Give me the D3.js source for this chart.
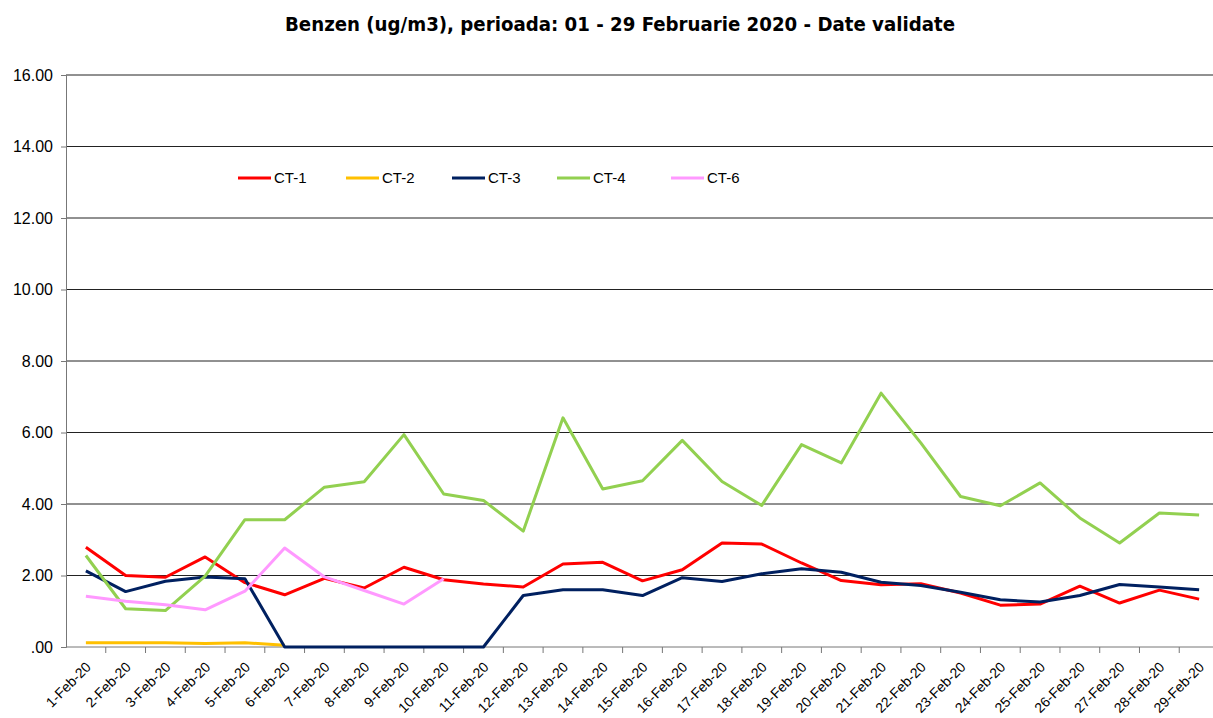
<!DOCTYPE html>
<html>
<head>
<meta charset="utf-8">
<script src="https://cdn.jsdelivr.net/npm/d3@7"></script>
<style>
  body { margin: 0; background: #fff; }
  svg { display: block; }
</style>
</head>
<body>
<div id="wrapper"></div>
<script>
// categories and values
const days = d3.range(1, 30).map(d => `${d}-Feb-20`)

const ct1 = [2.79, 2.00, 1.95, 2.52, 1.80, 1.46, 1.92, 1.65, 2.23, 1.88,
    1.76, 1.68, 2.32, 2.37, 1.85, 2.16, 2.91, 2.88, 2.35, 1.86,
    1.74, 1.77, 1.51, 1.17, 1.20, 1.70, 1.23, 1.59, 1.34]
const ct2 = [0.12, 0.12, 0.12, 0.10, 0.12, 0.05]
const ct3 = [2.13, 1.55, 1.84, 1.96, 1.91, 0, 0, 0, 0, 0,
    0, 1.44, 1.60, 1.60, 1.44, 1.94, 1.83, 2.05, 2.19, 2.09,
    1.81, 1.72, 1.53, 1.32, 1.26, 1.44, 1.75, 1.68, 1.60]
const ct4 = [2.56, 1.07, 1.02, 1.98, 3.56, 3.56, 4.47, 4.62, 5.94, 4.28,
    4.10, 3.24, 6.41, 4.42, 4.65, 5.78, 4.63, 3.96, 5.66, 5.15,
    7.10, 5.71, 4.21, 3.95, 4.59, 3.61, 2.91, 3.75, 3.69]
const ct6 = [1.42, 1.28, 1.18, 1.04, 1.56, 2.77, 1.96, 1.58, 1.20, 1.91]

const seriesNames = ['CT-1', 'CT-2', 'CT-3', 'CT-4', 'CT-6']
const seriesValues = [ct1, ct2, ct3, ct4, ct6]
const seriesColors = ['#ff0000', '#ffc000', '#002060', '#92d050', '#ff99ff']

const yTicks = [0, 2, 4, 6, 8, 10, 12, 14, 16]
const yTickLabels = ['.00', '2.00', '4.00', '6.00', '8.00', '10.00', '12.00', '14.00', '16.00']

const title = 'Benzen (ug/m3), perioada: 01 - 29 Februarie 2020 - Date validate'

// dimensions
const dms = {
    width: 1213,
    height: 718,
    margins: { top: 75, right: -6, bottom: 71, left: 66 }
}
dms.boundedWidth = dms.width - dms.margins.left - dms.margins.right
dms.boundedHeight = dms.height - dms.margins.top - dms.margins.bottom

const svg = d3.select('#wrapper')
    .append('svg')
        .attr('width', dms.width)
        .attr('height', dms.height)

svg.append('text')
    .attr('x', 620)
    .attr('y', 31)
    .attr('text-anchor', 'middle')
    .attr('textLength', 670)
    .attr('lengthAdjust', 'spacingAndGlyphs')
    .style('font-family', '"DejaVu Sans Condensed", Tahoma, sans-serif')
    .style('font-weight', 'bold')
    .style('font-size', '19px')
    .text(title)

const bounds = svg.append('g')
    .attr('transform', `translate(${dms.margins.left},${dms.margins.top})`)

// scales
const xScale = d3.scaleBand()
    .domain(days)
    .range([0, dms.boundedWidth])

const yScale = d3.scaleLinear()
    .domain([0, 16])
    .range([dms.boundedHeight, 0])

const xCenter = i => xScale(days[i]) + xScale.bandwidth() / 2

// gridlines
bounds.append('g')
    .selectAll('line')
    .data(yTicks.filter(d => d > 0))
    .join('line')
        .attr('x1', 0)
        .attr('x2', dms.boundedWidth)
        .attr('y1', d => yScale(d))
        .attr('y2', d => yScale(d))
        .attr('stroke', '#222')
        .attr('stroke-width', 1)

// y axis
const yAxis = bounds.append('g')
    .call(d3.axisLeft(yScale)
        .tickValues(yTicks)
        .tickFormat((d, i) => yTickLabels[i])
        .tickSize(5)
        .tickPadding(8))
yAxis.select('.domain').attr('stroke', '#777')
yAxis.selectAll('.tick line').attr('stroke', '#777')
yAxis.selectAll('text')
    .attr('fill', '#000')
    .style('font-family', 'Arial, "Liberation Sans", sans-serif')
    .style('font-size', '16px')

// x axis
const xAxis = bounds.append('g')
    .attr('transform', `translate(0,${dms.boundedHeight})`)
xAxis.append('line')
    .attr('x1', 0)
    .attr('x2', dms.boundedWidth)
    .attr('stroke', '#777')
xAxis.selectAll('.xtick')
    .data(days)
    .join('line')
        .attr('class', 'xtick')
        .attr('x1', d => xScale(d) + xScale.bandwidth())
        .attr('x2', d => xScale(d) + xScale.bandwidth())
        .attr('y1', 0)
        .attr('y2', 6)
        .attr('stroke', '#777')
xAxis.selectAll('.xlabel')
    .data(days)
    .join('text')
        .attr('class', 'xlabel')
        .attr('text-anchor', 'end')
        .attr('transform', (d, i) => `translate(${xCenter(i) + 6},${21}) rotate(-45)`)
        .style('font-family', 'Arial, "Liberation Sans", sans-serif')
        .style('font-size', '14px')
        .attr('fill', '#000')
        .text(d => d)

// lines
const lineGenerator = d3.line()
    .defined(d => d != null)
    .x((d, i) => xCenter(i))
    .y(d => yScale(d))

seriesValues.forEach((vals, k) => {
    bounds.append('path')
        .attr('d', lineGenerator(vals))
        .attr('fill', 'none')
        .attr('stroke', seriesColors[k])
        .attr('stroke-width', 3)
        .attr('stroke-linejoin', 'round')
})

// legend
const legendX = [238, 346, 452, 557, 671]
const legend = svg.append('g')
    .selectAll('g')
    .data(seriesNames)
    .join('g')
        .attr('transform', (d, i) => `translate(${legendX[i]},178)`)
legend.append('line')
    .attr('x1', 0)
    .attr('x2', 33)
    .attr('stroke', (d, i) => seriesColors[i])
    .attr('stroke-width', 3)
legend.append('text')
    .attr('x', 36)
    .attr('y', 5)
    .style('font-family', 'Arial, "Liberation Sans", sans-serif')
    .style('font-size', '15px')
    .text(d => d)
</script>
</body>
</html>
